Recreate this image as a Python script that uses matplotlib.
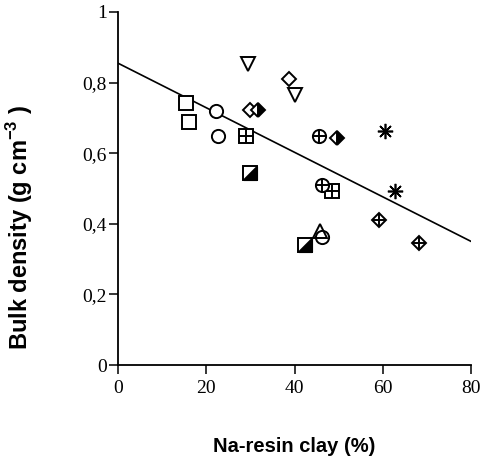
import matplotlib
matplotlib.use("Agg")
import matplotlib.pyplot as plt
import numpy as np

# ---- data ----
sq_x, sq_y = [15.4, 16.2], [0.741, 0.689]
circ_x, circ_y = [22.2, 22.6, 46.2], [0.720, 0.649, 0.363]
tdown_x, tdown_y = [29.5, 40.1], [0.852, 0.764]
tup_x, tup_y = [45.8], [0.379]
dia_x, dia_y = [29.9, 38.8], [0.722, 0.811]
hdia_x, hdia_y = [31.8, 49.7], [0.722, 0.642]
sqc_x, sqc_y = [29.0, 48.4], [0.649, 0.492]
hsq_x, hsq_y = [29.9, 42.4], [0.543, 0.341]
cpl_x, cpl_y = [45.6, 46.2], [0.649, 0.511]
ast_x, ast_y = [60.4, 62.8], [0.663, 0.494]
dpl_x, dpl_y = [59.2, 68.3], [0.412, 0.346]

fit_intercept = 0.855
fit_slope = -0.00631
fit_range = [0, 80]

xticks = [0, 20, 40, 60, 80]
yticks = [0, 0.2, 0.4, 0.6, 0.8, 1.0]
ytick_labels = ["0", "0,2", "0,4", "0,6", "0,8", "1"]

plt.rcParams['mathtext.fontset'] = 'custom'
plt.rcParams['mathtext.rm'] = 'Liberation Sans'
plt.rcParams['mathtext.bf'] = 'Liberation Sans:bold'

fig = plt.figure(figsize=(4.8, 4.59), dpi=100)
ax = fig.add_axes([118/480, 1-365/459, 353/480, 353/459])

ew = 1.4
common = dict(linestyle='none', color='black', markeredgecolor='black',
              markeredgewidth=ew, zorder=3)

# regression line
fx = np.array(fit_range, dtype=float)
ax.plot(fx, fit_intercept + fit_slope * fx, color='black', lw=1.2, zorder=2)

dms = 7.3
# open squares
ax.plot(sq_x, sq_y, marker='s', ms=9.5, markerfacecolor='white', **common)
# open circles
ax.plot(circ_x, circ_y, marker='o', ms=9.5, markerfacecolor='white', **common)
# triangles down
ax.plot(tdown_x, tdown_y, marker='v', ms=10, markerfacecolor='white', **common)
# triangle up
ax.plot(tup_x, tup_y, marker='^', ms=10, markerfacecolor='none', **common)
# open diamonds
ax.plot(dia_x, dia_y, marker='D', ms=dms, markerfacecolor='white', **common)
# half-filled diamonds
ax.plot(hdia_x, hdia_y, marker='D', ms=dms, fillstyle='right',
        markerfacecolor='black', markerfacecoloralt='white', **common)
# squares with cross
ax.plot(sqc_x, sqc_y, marker='s', ms=9.5, markerfacecolor='white', **common)
ax.plot(sqc_x, sqc_y, marker='+', ms=9.5, **common)
# half-filled squares (lower-right triangle black)
ax.plot(hsq_x, hsq_y, marker='s', ms=9.5, markerfacecolor='white', **common)
tri = [(-1, -1), (1, -1), (1, 1), (-1, -1)]
ax.plot(hsq_x, hsq_y, marker=tri, ms=9.5, markerfacecolor='black', **common)
# circles with plus
ax.plot(cpl_x, cpl_y, marker='o', ms=9.5, markerfacecolor='white', **common)
ax.plot(cpl_x, cpl_y, marker='+', ms=9.5, **common)
# asterisks
ax.plot(ast_x, ast_y, marker=(8, 2, 0), ms=11, linestyle='none', color='black',
        markeredgecolor='black', markeredgewidth=1.2, zorder=3)
ax.plot(ast_x, ast_y, marker='o', ms=3.5, markerfacecolor='black',
        linestyle='none', markeredgewidth=0, zorder=3)
# diamonds with plus
ax.plot(dpl_x, dpl_y, marker='D', ms=dms, markerfacecolor='white', **common)
ax.plot(dpl_x, dpl_y, marker='+', ms=dms * 1.41, **common)

ax.set_xlim(0, 80)
ax.set_ylim(0, 1)
ax.set_xticks(xticks)
ax.set_xticklabels([str(t) for t in xticks])
ax.set_yticks(yticks)
ax.set_yticklabels(ytick_labels)

for s in ['top', 'right']:
    ax.spines[s].set_visible(False)
for s in ['left', 'bottom']:
    ax.spines[s].set_linewidth(1.3)
ax.tick_params(direction='out', length=6.5, width=1.1)
ax.tick_params(axis='y', pad=1.5)
ax.tick_params(axis='x', pad=4)
for lab in ax.get_xticklabels() + ax.get_yticklabels():
    lab.set_fontfamily('Liberation Serif')
    lab.set_fontsize(14)

ax.set_xlabel('Na-resin clay (%)', fontfamily='Liberation Sans',
              fontweight='bold', fontsize=14.5)
ax.xaxis.set_label_coords(0.5, (365-446)/353)
ax.xaxis.label.set_va('center')
ax.set_ylabel(r'Bulk density (g cm$^{\mathbf{-3}}$ )', fontfamily='Liberation Sans',
              fontweight='bold', fontsize=17)
ax.yaxis.set_label_coords((20-118)/353, (365-227)/353)
ax.yaxis.label.set_va('center')

fig.savefig('out.png', dpi=100)
